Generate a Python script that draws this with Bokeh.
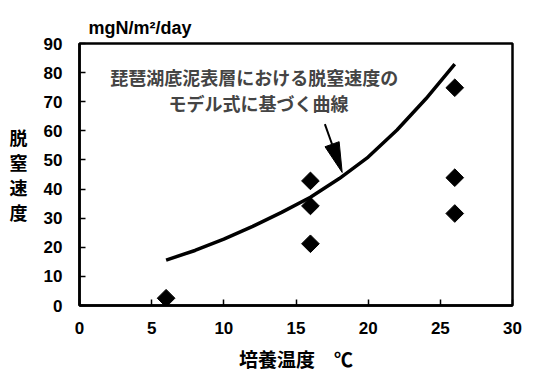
import numpy as np
from bokeh.plotting import figure
from bokeh.models import Range1d, Label, FixedTicker
from bokeh.embed import file_html
from bokeh.resources import INLINE

# measured points (culture temperature °C, denitrification rate mgN/m2/day)
temp_pts = [6, 16, 16, 16, 26, 26, 26]
rate_pts = [2.5, 42.8, 34.2, 21.2, 74.8, 43.9, 31.6]

# model curve
curve_t = [6, 8, 10, 12, 14, 16, 18, 20, 22, 24, 26]
curve_r = [15.6, 18.9, 22.8, 27.2, 32.0, 37.2, 43.6, 51.0, 60.3, 71.0, 82.9]

x_ticks = [0, 5, 10, 15, 20, 25, 30]
y_ticks = [0, 10, 20, 30, 40, 50, 60, 70, 80, 90]

note_lines = ["琵琶湖底泥表層における脱窒速度の", "モデル式に基づく曲線"]
y_label = "脱\n窒\n速\n度"
x_label = "培養温度　℃"
unit_label = "mgN/m²/day"

W, H = 533, 376
BL, BR, BT, BB = 79, 21, 43, 71

p = figure(width=W, height=H, output_backend="svg", toolbar_location=None,
           x_range=Range1d(0, 30), y_range=Range1d(0, 90),
           min_border_left=BL, min_border_right=BR, min_border_top=BT, min_border_bottom=BB)
p.background_fill_color = "white"
p.border_fill_color = "white"
p.grid.visible = False
p.outline_line_color = "black"
p.outline_line_width = 2.5

NUM_FONT = "Liberation Sans"
JP_FONT = "Noto Sans CJK JP"

for ax in (p.xaxis[0], p.yaxis[0]):
    ax.axis_line_width = 2.5
    ax.axis_line_color = "black"
    ax.major_tick_in = 6
    ax.major_tick_out = 0
    ax.major_tick_line_width = 1.5
    ax.minor_tick_line_color = None
    ax.major_label_text_font = NUM_FONT
    ax.major_label_text_font_style = "bold"
    ax.major_label_text_font_size = "17px"
    ax.major_label_text_color = "black"
    ax.axis_label_text_font = JP_FONT
    ax.axis_label_text_font_style = "bold"
    ax.axis_label_text_color = "black"
p.xaxis[0].ticker = FixedTicker(ticks=x_ticks)
p.yaxis[0].ticker = FixedTicker(ticks=y_ticks)
p.xaxis[0].major_label_standoff = 16
p.yaxis[0].major_label_standoff = 17

p.xaxis[0].axis_label = x_label
p.xaxis[0].axis_label_text_font_size = "19px"
p.xaxis[0].axis_label_standoff = 8

p.yaxis[0].axis_label = y_label
p.yaxis[0].axis_label_text_font_size = "18px"
p.yaxis[0].axis_label_standoff = 13
p.yaxis[0].axis_label_text_line_height = 0.95
try:
    p.yaxis[0].axis_label_orientation = "horizontal"
except Exception:
    pass

p.title.text = unit_label
p.title.align = "left"
p.title.offset = 9
p.title.text_font = NUM_FONT
p.title.text_font_style = "bold"
p.title.text_font_size = "18px"
p.title.text_color = "black"
p.title.standoff = 12

# curve
p.line(curve_t, curve_r, line_color="black", line_width=3.5)
# data points (diamonds)
p.scatter(temp_pts, rate_pts, marker="square", angle=np.pi / 4, size=12.5,
          fill_color="black", line_color="black")

# pixel <-> data helpers for the arrow head
fw = W - BL - BR
fh = H - BT - BB
sx_per = fw / 30.0
sy_per = fh / 90.0

tail = (17.0, 62.3)
tip = (18.2, 45.7)
tx, ty = tail[0] * sx_per, tail[1] * sy_per
hx, hy = tip[0] * sx_per, tip[1] * sy_per
dx, dy = hx - tx, hy - ty
L = np.hypot(dx, dy)
ux, uy = dx / L, dy / L
head_len, head_half = 30.0, 7.5
bx, by = hx - ux * head_len, hy - uy * head_len
px_, py_ = -uy, ux
tri_x = [hx, bx + px_ * head_half, bx - px_ * head_half]
tri_y = [hy, by + py_ * head_half, by - py_ * head_half]
p.line([tail[0], bx / sx_per], [tail[1], by / sy_per], line_color="black", line_width=2)
p.patch([v / sx_per for v in tri_x], [v / sy_per for v in tri_y],
        fill_color="black", line_color="black")

# annotation text
p.add_layout(Label(x=12.1, y=78.5, text=note_lines[0], text_font=JP_FONT, text_font_style="bold",
                   text_font_size="18px", text_align="center", text_baseline="middle"))
p.add_layout(Label(x=12.4, y=69.6, text=note_lines[1], text_font=JP_FONT, text_font_style="bold",
                   text_font_size="18px", text_align="center", text_baseline="middle"))

open("out.html", "w").write(file_html(p, INLINE))
